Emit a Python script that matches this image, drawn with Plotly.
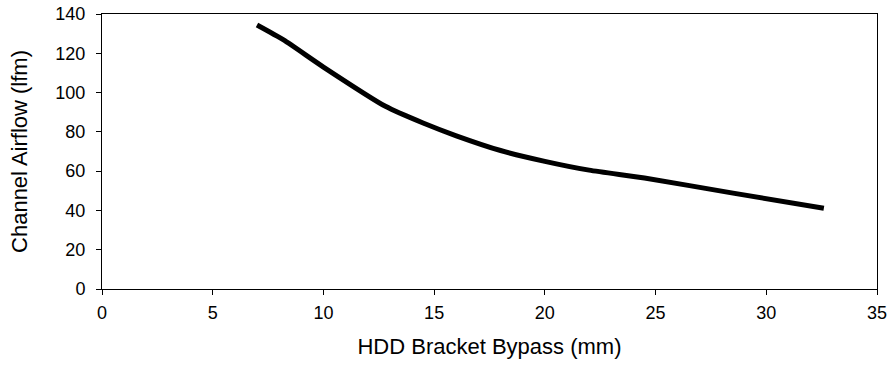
import plotly.graph_objects as go

# Channel airflow vs HDD bracket bypass width
bypass_mm = [7.0, 8.2, 10.0, 12.8, 14.5, 16.0, 18.0, 20.0, 22.0, 24.5, 28.5, 32.6]
airflow_lfm = [134.4, 126.8, 113.0, 93.0, 84.5, 78.0, 70.5, 65.0, 60.5, 56.5, 48.8, 41.1]

x_ticks = [0, 5, 10, 15, 20, 25, 30, 35]
y_ticks = [0, 20, 40, 60, 80, 100, 120, 140]

fig = go.Figure(
    go.Scatter(
        x=bypass_mm,
        y=airflow_lfm,
        mode="lines",
        line=dict(color="black", width=5, shape="spline", smoothing=0.6),
        showlegend=False,
    )
)

font = dict(family="Liberation Sans, Arial, sans-serif", size=18, color="black")

fig.update_layout(
    width=890,
    height=365,
    margin=dict(l=102, r=13, t=14, b=76),
    paper_bgcolor="white",
    plot_bgcolor="white",
    font=font,
    xaxis=dict(
        range=[0, 35],
        tickvals=x_ticks,
        ticks="outside",
        ticklen=5,
        tickcolor="black",
        ticklabelstandoff=2,
        showline=True,
        linecolor="black",
        linewidth=1,
        mirror=True,
        showgrid=False,
        zeroline=False,
        automargin=False,
        title=dict(text="HDD Bracket Bypass (mm)", standoff=17),
    ),
    yaxis=dict(
        range=[0, 140],
        tickvals=y_ticks,
        ticks="outside",
        ticklen=5,
        tickcolor="black",
        ticklabelstandoff=7,
        showline=True,
        linecolor="black",
        linewidth=1,
        mirror=True,
        showgrid=False,
        zeroline=False,
        automargin=False,
        title=dict(text="Channel Airflow (lfm)", standoff=21),
    ),
)

fig.write_html("out.html")
